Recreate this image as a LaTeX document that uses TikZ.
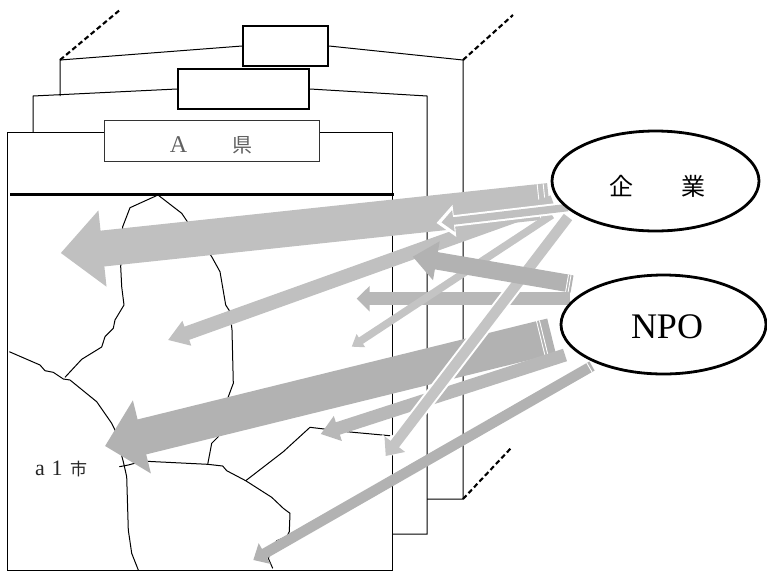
\documentclass[tikz,border=0pt]{standalone}
\usepackage{fontspec}
\setmainfont{Liberation Serif}
\newfontfamily\cjk{Noto Sans CJK JP}
\usetikzlibrary{arrows.meta,calc,shapes.geometric}
\definecolor{ga}{HTML}{C0C0C0}
\definecolor{gb}{HTML}{B2B2B2}
\definecolor{gc}{HTML}{B8B8B8}
\definecolor{gd}{HTML}{C4C4C4}
\tikzset{
  frameline/.style={draw=black,line width=1pt,line join=miter},
  maprule/.style={draw=black,line width=1pt,line join=round},
  dashrule/.style={draw=black,line width=2.1pt,dash pattern=on 5pt off 3pt},
  boxthick/.style={draw=black,line width=2pt,fill=white,inner sep=0pt,minimum width=#1},
  orgoval/.style={ellipse,draw=black,line width=2.8pt,fill=white,inner sep=0pt},
  flow/.style n args={4}{draw=#1,line width=#2pt,-{Triangle[length=#3pt,width=#4pt]}},
}
\newcommand{\tailmark}[4]{%
  \draw[white,line width=0.9pt] ($(#1)!#3pt!(#2)!#4pt!90:(#2)$) -- ($(#1)!#3pt!(#2)!#4pt!-90:(#2)$);}
\begin{document}
\begin{tikzpicture}[x=1pt,y=-1pt]
\useasboundingbox (0,0) rectangle (767,571);
% corner points
\coordinate (p3a) at (60,96);
\coordinate (p3b) at (60,60);
\coordinate (p3c) at (463,60);
\coordinate (p3d) at (463,499);
\coordinate (p3e) at (427,499);
\coordinate (d1) at (121,9);
\coordinate (d2) at (513,15);
\coordinate (d3) at (512,447);
\coordinate (p2a) at (33,132);
\coordinate (p2b) at (33,96);
\coordinate (p2c) at (427,96);
\coordinate (p2d) at (427,534);
\coordinate (p2e) at (392,534);
% back sheets
\node[boxthick=85pt,minimum height=40pt] (box3) at (285.5,46) {};
\draw[frameline] (p3a) -- (p3b) -- (box3.west);
\draw[frameline] (box3.east) -- (p3c) -- (p3d) -- (p3e);
\draw[dashrule] (p3b) -- (d1);
\draw[dashrule] (p3c) -- (d2);
\draw[dashrule] (p3d) -- (d3);
\node[boxthick=131pt,minimum height=40pt] (box2) at (243.5,89) {};
\draw[frameline] (p2a) -- (p2b) -- (box2.west);
\draw[frameline] (box2.east) -- (p2c) -- (p2d) -- (p2e);
% front sheet
\draw[frameline,fill=white] (7.5,132.5) rectangle (392.5,570.5);
\node[draw=black!80,line width=1pt,fill=white,minimum width=215pt,minimum height=41pt,inner sep=0pt] (title) at (211.5,140.5) {};
\node[text=black!62,font=\fontsize{24}{24}\selectfont,anchor=base] (titletext) at (211,152) {A\hspace{45pt}{\cjk\fontsize{20}{20}\selectfont 県}};
\coordinate (r1) at (10,194.5);
\coordinate (r2) at (394,194.5);
\draw[black,line width=2.4pt] (r1) -- (r2);
% map
\draw[maprule] (158,195) -- (130,207.7) -- (122.7,226.7) -- (120.7,266.7) -- (121.7,286.7) -- (124,305) -- (115,320) -- (113.3,328.3) -- (105,336.7) -- (101.7,347) -- (81.7,359.3) -- (65,377.3);
\draw[maprule] (158,195) -- (181.7,213.3) -- (186.7,220.7) -- (211.7,256.7) -- (220,271.7) -- (225.7,305) -- (230,311.7) -- (232,330) -- (233.3,383.3) -- (228.3,396.7) -- (218.3,436.7) -- (211.7,443.3) -- (207.7,464.3);
\draw[maprule] (9.3,351.7) -- (40,365) -- (45,370.7) -- (53.3,372.3) -- (63.3,379) -- (70,380) -- (96.7,401.7) -- (111.7,423.3) -- (115,430) -- (123.3,461.7) -- (126.7,476.7) -- (128.3,530) -- (131.7,553.3) -- (138.3,570);
\draw[maprule] (119.3,466.7) -- (128.3,465) -- (138.3,462.3) -- (146.7,461.3) -- (207.7,464.3) -- (222.7,466) -- (226.7,470.7) -- (245.7,480.7) -- (271.7,497.3) -- (283.3,508.3) -- (290,513.3) -- (289.3,531.7) -- (286.7,536.7) -- (276.7,540.7) -- (268.3,558.3) -- (272.7,568.3);
\draw[maprule] (245.7,480.7) -- (283.3,451.7) -- (310,427.3) -- (346.7,431.7) -- (390,435.7);
\node[anchor=base west,inner sep=0pt,font=\fontsize{22}{22}\selectfont,text=black!85] (a1) at (35,475) {a\hspace{6.7pt}1\hspace{7.5pt}{\cjk\fontsize{17}{17}\selectfont 市}};
% arrow ends
\coordinate (t1) at (549,201);  \coordinate (h1) at (60.7,253);
\coordinate (t3) at (553,202);  \coordinate (h3) at (168,340);
\coordinate (t4) at (552,215);  \coordinate (h4) at (351.7,346.7);
\coordinate (t2) at (568,207.5);\coordinate (h2) at (436.5,223);
\coordinate (h2i) at (441.5,222.4);
\coordinate (t5) at (568,217);  \coordinate (h5) at (385.7,456);
\coordinate (t6) at (572,284);\coordinate (h6) at (412.7,256.7);
\coordinate (t7) at (570,298.7);\coordinate (h7) at (356.7,298.7);
\coordinate (t8) at (551.5,336);\coordinate (h8) at (105,446);
\coordinate (t9) at (565,355);  \coordinate (h9) at (320.7,434);
\coordinate (t10) at (592,366); \coordinate (h10) at (253.3,560);
% arrows
\draw[flow={ga}{36}{42}{74}] (t1) -- (h1);
\tailmark{t1}{h1}{10}{18}\tailmark{t1}{h1}{4}{18}
\draw[flow={ga}{14}{20}{25}] (t3) -- (h3);
\draw[flow={gc}{12.7}{13}{25}] (t7) -- (h7);
\draw[flow={gd}{7.5}{11}{15}] (t4) -- (h4);
\draw[flow={gb}{36}{38}{73}] (t8) -- (h8);
\tailmark{t8}{h8}{8}{18}\tailmark{t8}{h8}{11}{18}
\draw[flow={gc}{13}{18}{25}] (t9) -- (h9);
\draw[flow={gb}{10.5}{13}{23}] (t10) -- (h10);
\tailmark{t10}{h10}{3}{5.2}
\draw[flow={white}{11.5}{18}{31}] (t2) -- (h2);
\draw[flow={ga}{7.5}{12}{21}] (t2) -- (h2i);
\draw[flow={white}{14.5}{15}{31}] (t5) -- (h5);
\draw[flow={gd}{10.5}{15}{25}] (t5) -- (h5);
\draw[flow={gb}{17.5}{24}{38}] (t6) -- (h6);
\tailmark{t6}{h6}{5}{8.7}\tailmark{t6}{h6}{2.5}{8.7}
% organisations
\node[orgoval,minimum width=207pt,minimum height=100pt] (firm) at (655.5,181) {};
\node[orgoval,minimum width=205pt,minimum height=99pt] (npo) at (663.5,324.5) {};
\node[font=\cjk\fontsize{24}{24}\selectfont] (firmtext) at (657,186) {企　　業};
\node[font=\fontsize{36}{36}\selectfont] (npotext) at (667,327) {NPO};
\end{tikzpicture}
\end{document}
